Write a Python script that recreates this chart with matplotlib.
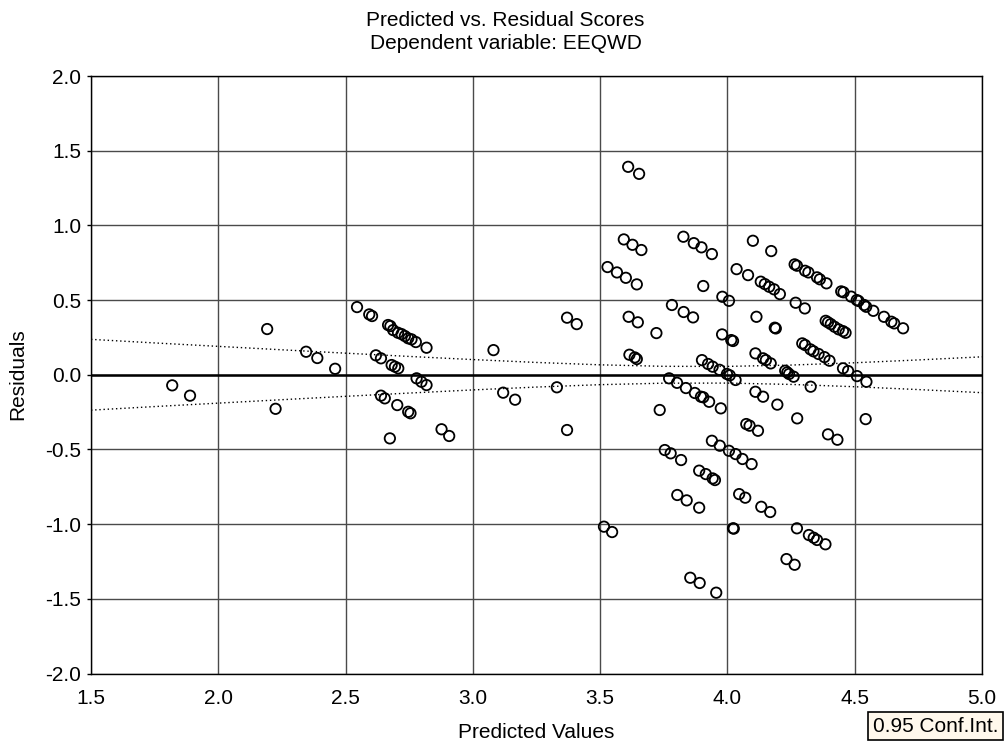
import matplotlib
matplotlib.use("Agg")
import matplotlib.pyplot as plt
import numpy as np

plt.rcParams['font.family'] = ['Liberation Sans', 'DejaVu Sans']

# Predicted values (x) and residuals (y)
pred = [
    1.819, 1.889, 2.192, 2.225, 2.345, 2.389, 2.459, 2.545, 2.593, 2.604,
    2.667, 2.676, 2.687, 2.706, 2.720, 2.733, 2.746, 2.759, 2.776, 2.818,
    2.619, 2.639, 2.681, 2.694, 2.707,
    2.779, 2.798, 2.818,
    2.639, 2.654, 2.703, 2.746, 2.755, 2.674,
    2.877, 2.907,
    3.081, 3.119, 3.166, 3.330, 3.370, 3.408, 3.370,
    3.610, 3.653,
    3.593, 3.627, 3.662,
    3.529, 3.566, 3.601, 3.644,
    3.827, 3.868, 3.898, 3.939,
    3.905, 4.036, 4.081,
    3.980, 4.006,
    3.782, 3.828, 3.865,
    3.612, 3.648, 3.721, 3.979, 4.015, 4.022,
    3.615, 3.636, 3.644,
    3.900, 3.924, 3.942, 3.969, 3.998, 4.009, 4.032,
    3.771, 3.802, 3.837, 3.872, 3.896, 3.905, 3.928, 3.974,
    3.734,
    3.754, 3.777, 3.818,
    3.939, 3.970, 4.006, 4.032, 4.059, 4.095,
    3.889, 3.915, 3.942, 3.951,
    3.803, 3.840, 3.889,
    4.046, 4.070, 4.133, 4.168,
    3.515, 3.547, 4.022, 4.025,
    4.273, 4.320, 4.339, 4.352, 4.385,
    4.232, 4.264,
    3.854, 3.891, 3.956,
    4.110, 4.140, 4.196,
    4.274, 4.074, 4.087, 4.120, 4.395, 4.432, 4.543,
    4.100, 4.172,
    4.131, 4.147, 4.164, 4.183, 4.206,
    4.264, 4.273, 4.305, 4.318, 4.352, 4.363, 4.389,
    4.447, 4.456, 4.486, 4.508, 4.515, 4.537, 4.545, 4.573, 4.615, 4.644, 4.655, 4.690,
    4.268, 4.304, 4.114, 4.186, 4.190,
    4.386, 4.395, 4.406, 4.421, 4.437, 4.454, 4.464,
    4.294, 4.305, 4.326, 4.338, 4.358, 4.381, 4.401,
    4.110, 4.140, 4.151, 4.170,
    4.227, 4.235, 4.242, 4.260,
    4.454, 4.474, 4.509, 4.546,
    4.327,
]
resid = [
    -0.071, -0.140, 0.306, -0.228, 0.154, 0.112, 0.040, 0.453, 0.404, 0.393,
    0.333, 0.326, 0.299, 0.281, 0.272, 0.259, 0.244, 0.237, 0.219, 0.181,
    0.130, 0.110, 0.065, 0.054, 0.043,
    -0.024, -0.047, -0.069,
    -0.140, -0.158, -0.203, -0.248, -0.258, -0.426,
    -0.365, -0.410,
    0.165, -0.120, -0.167, -0.084, 0.382, 0.339, -0.370,
    1.392, 1.345,
    0.906, 0.870, 0.835,
    0.721, 0.685, 0.649, 0.605,
    0.924, 0.881, 0.853, 0.808,
    0.594, 0.707, 0.667,
    0.522, 0.495,
    0.467, 0.420, 0.384,
    0.388, 0.351, 0.279, 0.270, 0.232, 0.226,
    0.134, 0.116, 0.105,
    0.098, 0.072, 0.054, 0.033, 0.005, -0.004, -0.035,
    -0.024, -0.054, -0.089, -0.122, -0.147, -0.151, -0.181, -0.225,
    -0.236,
    -0.504, -0.526, -0.571,
    -0.442, -0.475, -0.509, -0.531, -0.564, -0.598,
    -0.642, -0.665, -0.694, -0.705,
    -0.805, -0.841, -0.890,
    -0.799, -0.823, -0.884, -0.919,
    -1.017, -1.053, -1.028, -1.030,
    -1.028, -1.073, -1.091, -1.106, -1.135,
    -1.234, -1.272,
    -1.359, -1.394, -1.459,
    -0.114, -0.147, -0.200,
    -0.292, -0.330, -0.341, -0.375, -0.399, -0.435, -0.297,
    0.897, 0.828,
    0.623, 0.607, 0.589, 0.572, 0.540,
    0.739, 0.730, 0.696, 0.685, 0.652, 0.639, 0.612,
    0.558, 0.552, 0.523, 0.500, 0.494, 0.467, 0.455, 0.428, 0.388, 0.355, 0.344, 0.311,
    0.482, 0.444, 0.388, 0.315, 0.310,
    0.361, 0.351, 0.339, 0.321, 0.304, 0.292, 0.281,
    0.210, 0.199, 0.170, 0.157, 0.139, 0.118, 0.094,
    0.143, 0.110, 0.098, 0.076,
    0.027, 0.016, 0.005, -0.013,
    0.043, 0.025, -0.009, -0.047,
    -0.080,
]

# 0.95 confidence band (half-width)
ci_x = [1.5, 1.75, 2.0, 2.25, 2.5, 2.75, 3.0, 3.25, 3.5, 3.75, 4.0, 4.25, 4.5, 4.75, 5.0]
ci_half = [0.237, 0.213, 0.190, 0.167, 0.1445, 0.1226, 0.1016, 0.0824, 0.0664,
           0.0564, 0.0558, 0.0648, 0.0802, 0.0992, 0.120]

x_ticks = [1.5, 2.0, 2.5, 3.0, 3.5, 4.0, 4.5, 5.0]
y_ticks = [-2.0, -1.5, -1.0, -0.5, 0.0, 0.5, 1.0, 1.5, 2.0]

FS = 15

fig = plt.figure(figsize=(10.05, 7.48), dpi=100)
ax = fig.add_axes([91 / 1005, 1 - 673.5 / 748, (982 - 91) / 1005, (673.5 - 76) / 748])

ax.set_xlim(1.5, 5.0)
ax.set_ylim(-2.0, 2.0)
ax.set_xticks(x_ticks)
ax.set_yticks(y_ticks)
ax.set_xticklabels([f"{v:.1f}" for v in x_ticks])
ax.set_yticklabels([f"{v:.1f}" for v in y_ticks])
ax.grid(True, color='#4a4a4a', linewidth=1.0)
ax.set_axisbelow(True)
ax.tick_params(axis='both', labelsize=FS, length=3, direction='out', width=1, color='black')
ax.tick_params(axis='x', length=0, pad=11.5)
ax.tick_params(axis='y', pad=4)
for s in ax.spines.values():
    s.set_linewidth(1.0)
    s.set_color('black')

ax.axhline(0.0, color='black', linewidth=1.8, zorder=2)

ci_up = np.array(ci_half)
ax.plot(ci_x, ci_up, linestyle=(0, (1, 2)), color='black', linewidth=1.0, zorder=2)
ax.plot(ci_x, -ci_up, linestyle=(0, (1, 2)), color='black', linewidth=1.0, zorder=2)

ax.scatter(pred, resid, s=56, facecolors='none', edgecolors='black', linewidths=1.3, zorder=3)

fig.text(0.503, 1 - 20 / 748, "Predicted vs. Residual Scores", ha='center', va='center', fontsize=FS)
fig.text(0.503, 1 - 43.5 / 748, "Dependent variable: EEQWD", ha='center', va='center', fontsize=FS)
fig.text((91 + 982) / 2 / 1005, 1 - 733 / 748, "Predicted Values", ha='center', va='center', fontsize=FS)
fig.text(17.5 / 1005, 1 - 374.5 / 748, "Residuals", ha='center', va='center', rotation=90, fontsize=FS)

fig.text(998 / 1005, 1 - 726 / 748, "0.95 Conf.Int.", ha='right', va='center', fontsize=FS,
         bbox=dict(boxstyle='square,pad=0.22', facecolor='#fff8ec', edgecolor='black', linewidth=1.2))

fig.savefig("out.png", dpi=100, facecolor='white')
